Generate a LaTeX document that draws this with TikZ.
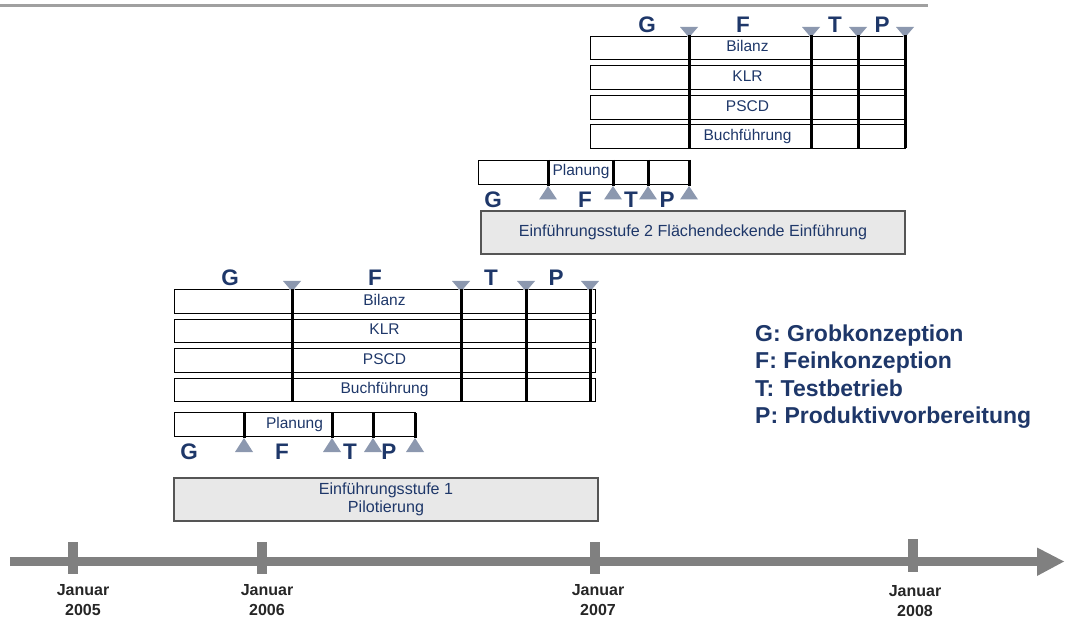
\documentclass[tikz,border=0pt]{standalone}
\usepackage{fontspec}
\setmainfont{Liberation Sans}
\definecolor{navy}{RGB}{30,55,105}
\definecolor{tri}{RGB}{140,152,175}
\definecolor{tlgray}{RGB}{128,128,128}
\definecolor{topgray}{RGB}{160,160,160}
\definecolor{boxfill}{RGB}{232,232,232}
\definecolor{boxborder}{RGB}{85,85,85}
\begin{document}
\begin{tikzpicture}[x=1pt,y=-1pt,
  rowbox/.style={draw=black, line width=0.8pt, minimum height=23.5pt, inner sep=0pt, text=navy, font=\fontsize{15.5}{17}\selectfont, text height=11pt, text depth=3pt},
  phase/.style={font=\bfseries\fontsize{22.5}{24}\selectfont, text=navy, inner sep=0pt},
  gate/.style={line width=3pt, black},
  trishape/.style={fill=tri},
  stagebox/.style={draw=boxborder, fill=boxfill, line width=1.2pt, inner sep=0pt, text=navy, font=\fontsize{16.1}{18.5}\selectfont, align=center},
  yearlbl/.style={font=\bfseries\fontsize{16}{20}\selectfont, text=black!85, align=center, inner sep=0pt},
  legend/.style={font=\bfseries\fontsize{23}{27}\selectfont, text=navy, anchor=base west, inner sep=0pt}
]
\useasboundingbox (0,0) rectangle (1077,620);

% top rule
\coordinate (tl1) at (0,5.5);
\coordinate (tl2) at (928,5.5);
\draw[line width=3pt, topgray] (tl1) -- (tl2);

% ---------- Stage 2 ----------
\node[rowbox, minimum width=315pt] (s2bil) at (747.5,48) {Bilanz};
\node[rowbox, minimum width=315pt] (s2klr) at (747.5,77.5) {KLR};
\node[rowbox, minimum width=315pt] (s2pscd) at (747.5,107.5) {PSCD};
\node[rowbox, minimum width=315pt] (s2buch) at (747.5,136.5) {Buchführung};
\foreach \x in {689,811,858,905} {
  \fill[white] (\x-10.5,26) -- (\x+10.5,26) -- (\x,38.5) -- cycle;
  \fill[trishape] (\x-9,27) -- (\x+9,27) -- (\x,37.5) -- cycle;
  \draw[gate] (\x,35) -- (\x,148.5);
}
\node[phase] (s2G) at (647,25) {G};
\node[phase] (s2F) at (743,25) {F};
\node[phase] (s2T) at (835,25) {T};
\node[phase] (s2P) at (882,25) {P};

% stage 2 Planung
\node[rowbox, minimum width=211pt, minimum height=24pt] (s2plan) at (583.5,172) {\hspace*{-5pt}Planung};
\foreach \x in {548,613,648,689} {
  \draw[gate] (\x,160) -- (\x,186);
  \fill[trishape] (\x-9,199.5) -- (\x+9,199.5) -- (\x,186) -- cycle;
}
\node[phase] (s2g) at (493,200) {G};
\node[phase] (s2f) at (585,200) {F};
\node[phase] (s2t) at (631,200) {T};
\node[phase] (s2p) at (667,200) {P};

\node[stagebox, minimum width=424pt, minimum height=43pt] (s2box) at (693,232.5) {Einführungsstufe 2 Flächendeckende Einführung};

% ---------- Stage 1 ----------
\node[rowbox, minimum width=421pt] (s1bil) at (384.5,301.5) {Bilanz};
\node[rowbox, minimum width=421pt] (s1klr) at (384.5,331) {KLR};
\node[rowbox, minimum width=421pt] (s1pscd) at (384.5,360.5) {PSCD};
\node[rowbox, minimum width=421pt] (s1buch) at (384.5,390) {Buchführung};
\foreach \x in {292,461,526,590} {
  \fill[white] (\x-10.5,280) -- (\x+10.5,280) -- (\x,292.5) -- cycle;
  \fill[trishape] (\x-9,281) -- (\x+9,281) -- (\x,291.5) -- cycle;
  \draw[gate] (\x,289) -- (\x,402);
}
\node[phase] (s1G) at (230,278) {G};
\node[phase] (s1F) at (375,278) {F};
\node[phase] (s1T) at (491,278) {T};
\node[phase] (s1P) at (556,278) {P};

% stage 1 Planung
\node[rowbox, minimum width=241pt, minimum height=23.5pt] (s1plan) at (294.5,424.5) {Planung};
\foreach \x in {244,332,373,415} {
  \draw[gate] (\x,413) -- (\x,438);
  \fill[trishape] (\x-9,452) -- (\x+9,452) -- (\x,438) -- cycle;
}
\node[phase] (s1g) at (189,452) {G};
\node[phase] (s1f) at (282,452) {F};
\node[phase] (s1t) at (350,452) {T};
\node[phase] (s1p) at (389,452) {P};

\node[stagebox, minimum width=424pt, minimum height=43pt] (s1box) at (386,499.5) {Einführungsstufe 1\\Pilotierung};

% ---------- Legend ----------
\node[legend] (lg) at (755,341.5) {G: Grobkonzeption};
\node[legend] (lf) at (755,368.8) {F: Feinkonzeption};
\node[legend] (lt) at (755,396) {T: Testbetrieb};
\node[legend] (lp) at (755,423.3) {P: Produktivvorbereitung};

% ---------- Timeline ----------
\fill[tlgray] (10,557) rectangle (1040,566);
\fill[tlgray] (1037,547.5) -- (1064,561.5) -- (1037,576) -- cycle;
\fill[tlgray] (68,542) rectangle (78,574);
\fill[tlgray] (257,542) rectangle (267,574);
\fill[tlgray] (590,542) rectangle (600,574);
\fill[tlgray] (908,539) rectangle (918,572);
\node[yearlbl] (y2005) at (83,600.5) {Januar\\2005};
\node[yearlbl] (y2006) at (267,600.5) {Januar\\2006};
\node[yearlbl] (y2007) at (598,600.5) {Januar\\2007};
\node[yearlbl] (y2008) at (915,601.5) {Januar\\2008};
\end{tikzpicture}
\end{document}
